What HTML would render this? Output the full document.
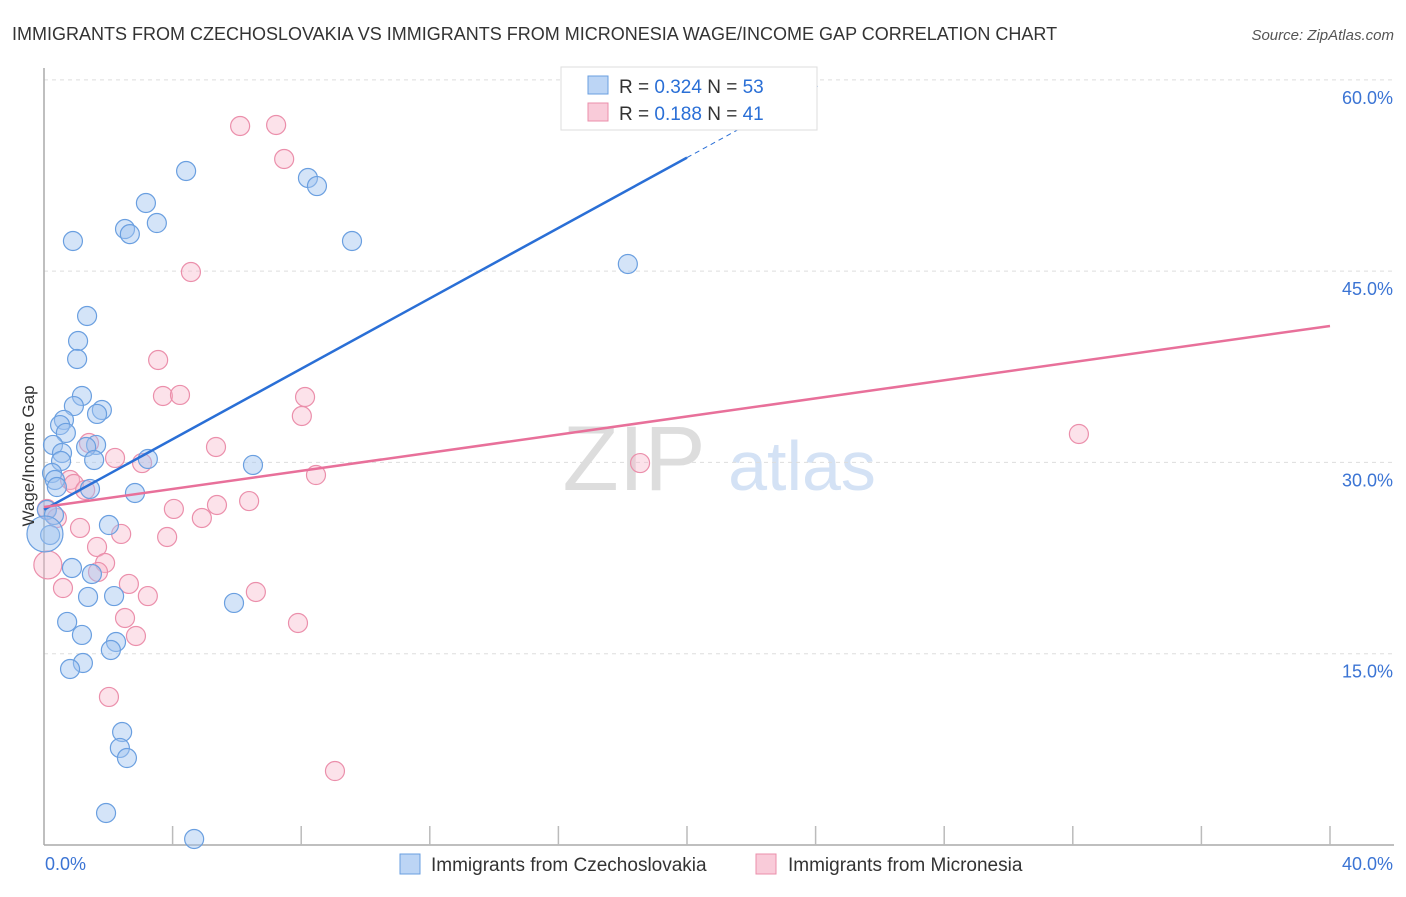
<!DOCTYPE html>
<html><head><meta charset="utf-8"><style>
body{margin:0;background:#fff;font-family:"Liberation Sans",sans-serif}
svg text{font-family:"Liberation Sans",sans-serif}
</style></head><body>
<svg id="chart" width="1406" height="892" xmlns="http://www.w3.org/2000/svg">
<text x="12" y="40" font-size="18" fill="#333">IMMIGRANTS FROM CZECHOSLOVAKIA VS IMMIGRANTS FROM MICRONESIA WAGE/INCOME GAP CORRELATION CHART</text>
<text x="1394" y="40" font-size="15" fill="#555" text-anchor="end" font-style="italic">Source: ZipAtlas.com</text>
<g><text x="634" y="490" font-size="92" fill="#ddd" text-anchor="middle" font-family="Liberation Serif">ZIP</text><text x="802" y="490" font-size="70" fill="#d4e2f5" text-anchor="middle">atlas</text></g>
<g id="grid"></g><g id="axes"></g><g id="pts"></g><g id="trends"></g>
<text transform="translate(34,456) rotate(-90)" font-size="17" fill="#333" text-anchor="middle">Wage/Income Gap</text>
<g>
<rect x="561" y="67" width="256" height="63" fill="#fff" stroke="#ddd"/>
<rect x="588" y="76" width="20" height="18" fill="#bcd5f5" stroke="#6a9fe0"/>
<text x="619" y="93" font-size="19" fill="#333">R = <tspan fill="#2a6fd6">0.324</tspan>   N = <tspan fill="#2a6fd6">53</tspan></text>
<rect x="588" y="103" width="20" height="18" fill="#f9cbd9" stroke="#eb8fab"/>
<text x="619" y="120" font-size="19" fill="#333">R =  <tspan fill="#2a6fd6">0.188</tspan>   N =  <tspan fill="#2a6fd6">41</tspan></text>
</g>
<g>
<rect x="400" y="854" width="20" height="20" fill="#bcd5f5" stroke="#6a9fe0"/>
<text x="431" y="871" font-size="19" fill="#333">Immigrants from Czechoslovakia</text>
<rect x="756" y="854" width="20" height="20" fill="#f9cbd9" stroke="#eb8fab"/>
<text x="788" y="871" font-size="19" fill="#333">Immigrants from Micronesia</text>
</g>
</svg>
<script>
const yTicks=[15,30,45,60];
const yTickLabels=["15.0%","30.0%","45.0%","60.0%"];
const xTickLabels=["0.0%","40.0%"];
const blueX=[4.42,8.21,8.49,3.17,3.51,2.52,2.67,0.90,9.58,18.16,1.34,1.06,1.03,1.18,0.93,1.80,1.65,0.62,0.50,0.68,0.28,1.62,1.31,0.56,1.56,3.23,0.53,6.50,0.25,0.34,0.40,1.43,2.83,0.09,0.31,2.02,0.19,0.87,1.49,1.37,2.18,5.91,0.72,1.18,2.24,2.08,1.21,0.81,2.43,2.36,2.58,1.93,4.67];
const blueY=[52.85,52.3,51.67,50.34,48.77,48.3,47.9,47.36,47.36,45.56,41.48,39.52,38.11,35.21,34.42,34.11,33.8,33.33,32.93,32.31,31.37,31.37,31.21,30.74,30.19,30.27,30.11,29.8,29.17,28.62,28.07,27.92,27.6,26.27,25.88,25.09,24.31,21.72,21.25,19.45,19.52,18.98,17.49,16.47,15.92,15.29,14.27,13.8,8.86,7.61,6.82,2.51,0.47];
const pinkX=[6.10,7.22,7.47,4.57,3.55,3.70,4.23,8.12,8.02,5.35,1.40,2.21,3.05,18.54,32.19,8.46,0.81,0.93,1.28,6.38,4.04,5.38,4.91,0.09,0.40,1.12,2.40,3.83,1.65,1.90,0.59,1.68,2.64,3.23,6.59,2.52,2.86,7.90,2.02,9.05];
const pinkY=[56.38,56.46,53.79,44.93,38.03,35.21,35.29,35.13,33.64,31.21,31.52,30.35,29.95,29.95,32.23,29.01,28.62,28.31,27.84,26.97,26.35,26.66,25.64,26.35,25.64,24.86,24.39,24.15,23.37,22.11,20.15,21.41,20.47,19.52,19.84,17.8,16.39,17.41,11.61,5.8];
const bigBlue=[0.03,24.39], bigPink=[0.12,21.96];
const blueTrend=[26.3,53.9,20,59.0]; // y@0, y@20 (solid end), dashed end x, ...
const pinkTrend=[26.5,40.7];
const NS="http://www.w3.org/2000/svg";
const X0=44,X1=1330,Y0=845,PXY=12.753;
const sx=v=>X0+(X1-X0)*v/40, sy=v=>Y0-v*PXY;
function mk(t,a,p){const e=document.createElementNS(NS,t);for(const k in a)e.setAttribute(k,a[k]);document.getElementById(p).appendChild(e);return e;}
yTicks.forEach((t,i)=>{
 const l=mk('line',{x1:X0,x2:1394,y1:sy(t),y2:sy(t),stroke:'#ddd','stroke-dasharray':'4,4'},'grid');
 
 
 const tx=mk('text',{x:1393,y:sy(t)+24,'font-size':18,fill:'#3b74d4','text-anchor':'end'},'axes');
 tx.textContent=yTickLabels[i];
 
 
});
let ax=mk('line',{x1:X0,x2:X0,y1:68,y2:Y0,stroke:'#aaa','stroke-width':1.5},'axes');


ax=mk('line',{x1:X0,x2:1394,y1:Y0,y2:Y0,stroke:'#aaa','stroke-width':1.5},'axes');


for(let i=1;i<=10;i++){const t=mk('line',{x1:sx(i*4),x2:sx(i*4),y1:Y0,y2:Y0-19,stroke:'#bbb','stroke-width':1.5},'axes');
 
 }
[[0,'start',45],[40,'end',1393]].forEach((d,i)=>{const t=mk('text',{x:d[2],y:870,'font-size':18,fill:'#3b74d4','text-anchor':d[1]},'axes');t.textContent=xTickLabels[i];
 
 });
function pt(x,y,r,blue){const c=mk('circle',{cx:sx(x),cy:sy(y),r:r,fill:blue?'rgba(160,196,240,0.45)':'rgba(248,182,202,0.4)',stroke:blue?'#6a9fe0':'#eb8fab','stroke-width':1.2},'pts');
 
 }
pinkX.forEach((x,i)=>pt(x,pinkY[i],9.5,false));
pt(bigPink[0],bigPink[1],14,false);
blueX.forEach((x,i)=>pt(x,blueY[i],9.5,true));
pt(bigBlue[0],bigBlue[1],18,true);
const bs=(blueTrend[1]-blueTrend[0])/20;
let l=mk('line',{x1:sx(0),y1:sy(blueTrend[0]),x2:sx(20),y2:sy(blueTrend[1]),stroke:'#2a6fd6','stroke-width':2.5},'trends');


l=mk('line',{x1:sx(20),y1:sy(blueTrend[1]),x2:sx(24.1),y2:sy(blueTrend[0]+bs*24.1),stroke:'#2a6fd6','stroke-width':1,'stroke-dasharray':'5,4'},'trends');


l=mk('line',{x1:sx(0),y1:sy(pinkTrend[0]),x2:sx(40),y2:sy(pinkTrend[1]),stroke:'#e8709a','stroke-width':2.5},'trends');


</script>
</body></html>
